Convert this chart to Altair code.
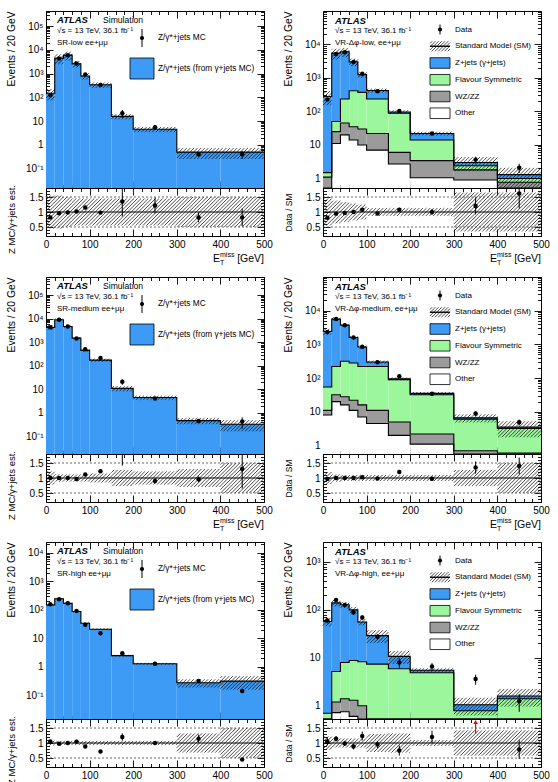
import math

import altair as alt
import pandas as pd

FONT = "Liberation Sans"
W, HM, HR = 218, 177, 48          # panel width, main height, ratio height

EDGES = [0, 20, 40, 60, 80, 100, 150, 200, 300, 400, 500]
X_TICKS = list(range(0, 501, 20))
R_DOMAIN = [0.2, 1.8]
R_TICKS = [round(0.2 + 0.1 * i, 1) for i in range(17)]
R_LABEL_VALUES = [0.5, 1.0, 1.5]
R_LABELS = ["0.5", "1", "1.5"]
LOG_EXPONENTS = [-1, 0, 1, 2, 3, 4, 5]
LOG_LABELS = ["10⁻¹", "1", "10", "10²", "10³", "10⁴", "10⁵"]

BLUE = "#3d9bf5"
GREEN = "#9cf79c"
GREY = "#9b9b9b"
WHITE = "#ffffff"

# ---------------- SR-low: Z MC vs gamma+jets estimate ----------------
SRLOW_EST = [150, 4500, 6000, 2600, 800, 340, 16, 4.6, 0.5, 0.5]
SRLOW_MC = [123, 4320, 5880, 2650, 920, 333, 21.6, 5.6, 0.41, 0.41]
SRLOW_MC_RELERR = [0.04, 0.02, 0.02, 0.03, 0.04, 0.04, 0.37, 0.22, 0.2, 0.36]
SRLOW_SYST = [0.5, 0.45, 0.4, 0.3, 0.3, 0.25, 0.25, 0.25, 0.48, 0.48]
SRLOW_RBAND = [0.55, 0.55, 0.5, 0.45, 0.45, 0.45, 0.45, 0.45, 0.5, 0.5]
SRLOW_YDOM = [0.0155, 4.3e5]

# ---------------- SR-medium ----------------
SRMED_EST = [4300, 9000, 4700, 1500, 450, 175, 11, 4.5, 0.47, 0.33]
SRMED_MC = [4300, 9000, 4700, 1455, 504, 215, 21, 4.05, 0.45, 0.43]
SRMED_MC_RELERR = [0.02, 0.02, 0.02, 0.03, 0.04, 0.05, 0.26, 0.1, 0.1, 0.5]
SRMED_SYST = [0.22, 0.12, 0.12, 0.12, 0.12, 0.15, 0.25, 0.2, 0.3, 0.5]
SRMED_RBAND = [0.22, 0.12, 0.12, 0.12, 0.12, 0.15, 0.27, 0.22, 0.3, 0.5]
SRMED_YDOM = [0.018, 5.9e5]

# ---------------- SR-high ----------------
SRHIGH_EST = [150, 245, 170, 88, 34, 21, 2.5, 1.3, 0.28, 0.32]
SRHIGH_MC = [158, 238, 170, 92, 30, 15.1, 3.0, 1.3, 0.32, 0.145]
SRHIGH_MC_RELERR = [0.05, 0.03, 0.03, 0.06, 0.05, 0.05, 0.1, 0.05, 0.12, 0.05]
SRHIGH_SYST = [0.08, 0.07, 0.07, 0.07, 0.07, 0.07, 0.07, 0.07, 0.32, 0.5]
SRHIGH_RBAND = [0.08, 0.07, 0.07, 0.07, 0.07, 0.07, 0.07, 0.07, 0.32, 0.5]
SRHIGH_YDOM = [0.015, 2.4e4]

# ---------------- VR-dphi-low ----------------
VRLOW_OTHER = [0.5, 11, 20, 14, 10, 7, 2.7, 1.05, 0.9, 0.4]
VRLOW_WZ = [0.6, 14, 25, 21, 20, 15, 3.3, 2.35, 0.9, 0.37]
VRLOW_FS = [0.4, 25, 190, 380, 340, 213, 82, 10.6, 0.6, 0.23]
VRLOW_Z = [278, 5450, 5765, 2585, 880, 185, 8, 8, 0.6, 0.3]
VRLOW_DATA = [225, 5200, 5800, 3000, 1340, 400, 103, 22, 3.6, 2.1]
VRLOW_SYST = [0.45, 0.35, 0.3, 0.25, 0.2, 0.13, 0.13, 0.13, 0.45, 0.6]
VRLOW_RBAND = [0.45, 0.38, 0.33, 0.28, 0.25, 0.13, 0.13, 0.13, 0.65, 0.65]
VRLOW_YDOM = [0.52, 9.9e4]

# ---------------- VR-dphi-medium ----------------
VRMED_OTHER = [8, 20, 16, 11, 7, 4.5, 2, 1.1, 0.5, 0.4]
VRMED_WZ = [3, 12, 12, 11, 9, 6.5, 3, 1.1, 0.2, 0.2]
VRMED_FS = [43, 188, 288, 258, 204, 209, 85, 29.8, 5.3, 2.6]
VRMED_Z = [2346, 5380, 3384, 1320, 610, 80, 5, 3, 0.6, 0.3]
VRMED_DATA = [2330, 5600, 3700, 1600, 850, 295, 114, 34, 8.9, 4.9]
VRMED_SYST = [0.2, 0.12, 0.1, 0.1, 0.1, 0.1, 0.1, 0.1, 0.27, 0.5]
VRMED_RBAND = [0.2, 0.12, 0.1, 0.1, 0.1, 0.1, 0.1, 0.1, 0.27, 0.5]
VRMED_YDOM = [0.56, 9.9e4]

# ---------------- VR-dphi-high ----------------
VRHIGH_OTHER = [0.2, 0.72, 0.75, 0.6, 0.5, 0.3, 0.2, 0.1, 0.05, 0.05]
VRHIGH_WZ = [0.2, 0.48, 0.65, 0.7, 0.5, 0.2, 0.1, 0.1, 0.05, 0.05]
VRHIGH_FS = [0.3, 4.0, 6.6, 7.5, 7.3, 6.9, 5.6, 4.7, 0.69, 1.3]
VRHIGH_Z = [56.3, 134.8, 120, 91.2, 47.7, 21.6, 4.8, 0.6, 0.26, 0.2]
VRHIGH_DATA = [60, 160, 126, 88, 69, 27.5, 8, 6.6, 3.6, 1.25]
VRHIGH_SYST = [0.2, 0.15, 0.15, 0.15, 0.15, 0.3, 0.3, 0.1, 0.4, 0.4]
VRHIGH_RBAND = [0.22, 0.15, 0.15, 0.15, 0.15, 0.3, 0.32, 0.1, 0.42, 0.42]
VRHIGH_YDOM = [0.53, 2600]

CENTRES = [(a + b) / 2 for a, b in zip(EDGES[:-1], EDGES[1:])]
ONE = pd.DataFrame({"k": [0]})


# ---------------- helpers ----------------
def diag_segments(px0, px1, py0, py1, step):
    """'/'-hatch segments clipped to a rectangle (pixel space, y upward)."""
    segs = []
    k0 = math.ceil((px0 - py1) / step)
    k1 = math.floor((px1 - py0) / step)
    for k in range(k0, k1 + 1):
        c = k * step
        lo = max(py0, px0 - c)
        hi = min(py1, px1 - c)
        if hi - lo > 0.25:
            segs.append((lo + c, lo, hi + c, hi))
    return segs


def hatch_df(rects, ydom, height, log, step=3.6):
    if log:
        l0, l1 = math.log10(ydom[0]), math.log10(ydom[1])
        fy = lambda v: (math.log10(v) - l0) / (l1 - l0) * height
        gy = lambda p: 10 ** (l0 + p / height * (l1 - l0))
    else:
        fy = lambda v: (v - ydom[0]) / (ydom[1] - ydom[0]) * height
        gy = lambda p: ydom[0] + p / height * (ydom[1] - ydom[0])
    fx = lambda v: v / 500 * W
    gx = lambda p: p / W * 500
    rows = []
    for xa, xb, ya, yb in rects:
        ya = max(ya, ydom[0])
        yb = min(yb, ydom[1])
        if yb <= ya:
            continue
        for ax, ay, bx, by in diag_segments(fx(xa), fx(xb), fy(ya), fy(yb), step):
            rows.append({"x": gx(ax), "y": gy(ay), "x2": gx(bx), "y2": gy(by)})
    return pd.DataFrame(rows)


def x_axis(orient, labels):
    return alt.Axis(
        orient=orient, values=X_TICKS, labels=labels, title=None,
        labelExpr="datum.value % 100 == 0 ? datum.label : ''",
        tickSize={"condition": {"test": "datum.value % 100 == 0", "value": -7}, "value": -3.5},
        labelPadding=10, labelFontSize=10, labelOverlap=False, labelFlush=False,
        ticks=True, domain=False, grid=False, tickColor="black", tickWidth=0.9,
    )


def log_ticks(ydom):
    vals = []
    for k in range(-3, 8):
        for m in range(1, 10):
            v = float(f"{m}e{k}")
            if ydom[0] <= v <= ydom[1]:
                vals.append(v)
    return vals


def y_log_axis(orient, ydom, labels, title=None):
    expr = "''"
    for e, lab in reversed(list(zip(LOG_EXPONENTS, LOG_LABELS))):
        expr = f"datum.value == {float(f'1e{e}')!r} ? '{lab}' : " + expr
    major = "abs(log(datum.value) / LN10 - round(log(datum.value) / LN10)) < 0.001"
    return alt.Axis(
        orient=orient, values=log_ticks(ydom), labels=labels, labelExpr=expr,
        tickSize={"condition": {"test": major, "value": -7}, "value": -3.5},
        labelPadding=10, labelFontSize=10, labelOverlap=False, labelFlush=False,
        ticks=True, domain=False, grid=False, tickColor="black", tickWidth=0.9,
        title=title, titleX=-35, titleAnchor="end", titleBaseline="middle",
        titleFontSize=10.3, titleFontWeight="normal", titleAngle=-90,
    )


def y_ratio_axis(orient, labels, title=None, title_size=9.5, title_y=HR / 2):
    expr = "''"
    for v, lab in reversed(list(zip(R_LABEL_VALUES, R_LABELS))):
        expr = f"datum.value == {v!r} ? '{lab}' : " + expr
    major = "datum.value == 0.5 || datum.value == 1 || datum.value == 1.5"
    return alt.Axis(
        orient=orient, values=R_TICKS, labels=labels, labelExpr=expr,
        tickSize={"condition": {"test": major, "value": -7}, "value": -3.5},
        labelPadding=10, labelFontSize=10, labelOverlap=False, labelFlush=False,
        ticks=True, domain=False, grid=False, tickColor="black", tickWidth=0.9,
        title=title, titleX=-35, titleY=title_y, titleAlign="center", titleBaseline="middle",
        titleFontSize=title_size, titleFontWeight="normal", titleAngle=-90,
    )


def txt(x, y, s, size=8.2, weight="normal", style="normal", align="left", colour="black"):
    return alt.Chart(pd.DataFrame({"t": [s]})).mark_text(
        align=align, baseline="middle", font=FONT, fontSize=size,
        fontWeight=weight, fontStyle=style, color=colour,
    ).encode(x=alt.value(x), y=alt.value(y), text="t:N")


def marker(x, y, half):
    bar = alt.Chart(ONE).mark_rule(color="black", strokeWidth=1).encode(
        x=alt.value(x), y=alt.value(y - half), y2=alt.value(y + half))
    dot = alt.Chart(ONE).mark_circle(color="black", opacity=1, size=18).encode(
        x=alt.value(x), y=alt.value(y))
    return [bar, dot]


def swatch(x0, x1, y0, y1, colour):
    return alt.Chart(ONE).mark_rect(fill=colour, stroke="black", strokeWidth=0.8).encode(
        x=alt.value(x0), x2=alt.value(x1), y=alt.value(y0), y2=alt.value(y1))


def hatch_swatch(x0, x1, y0, y1):
    rows = []
    for ax, ay, bx, by in diag_segments(x0, x1, 0, y1 - y0, 3.2):
        rows.append({"x": ax, "y": y1 - ay, "x2": bx, "y2": y1 - by})
    lines = alt.Chart(pd.DataFrame(rows)).mark_rule(color="black", strokeWidth=0.7).encode(
        x=alt.X("x:Q", scale=None, axis=None), x2="x2:Q",
        y=alt.Y("y:Q", scale=None, axis=None), y2="y2:Q")
    mid = alt.Chart(ONE).mark_rule(color="black", strokeWidth=1.4).encode(
        x=alt.value(x0), x2=alt.value(x1), y=alt.value((y0 + y1) / 2))
    return [lines, mid]


# ---------------- panels ----------------
def main_panel(components, colours, pts, pts_lo, pts_hi, syst, ydom, overlays):
    xs = alt.Scale(domain=[0, 500], nice=False, zero=False)
    ys = alt.Scale(type="log", domain=ydom, nice=False, clamp=True)
    fills, outlines = [], []
    below = [ydom[0]] * 10
    cum = [0.0] * 10
    for k, (comp, col) in enumerate(zip(components, colours)):
        cum = [c + v for c, v in zip(cum, comp)]
        for j in range(10):
            fills.append({"x0": EDGES[j], "x1": EDGES[j + 1], "lo": below[j], "hi": cum[j], "col": col})
        for j in range(11):
            outlines.append({"lvl": k, "x": EDGES[j], "y": cum[min(j, 9)]})
        below = cum[:]
    total = cum

    fill = alt.Chart(pd.DataFrame(fills)).mark_rect(strokeWidth=0).encode(
        x=alt.X("x0:Q", scale=xs, axis=x_axis("bottom", False)), x2="x1:Q",
        y=alt.Y("hi:Q", scale=ys, axis=y_log_axis("left", ydom, True, "Events / 20 GeV")),
        y2="lo:Q", color=alt.Color("col:N", scale=None))
    outline = alt.Chart(pd.DataFrame(outlines)).mark_line(
        interpolate="step-after", color="black", strokeWidth=1.1).encode(
        x=alt.X("x:Q", scale=xs, axis=None), y=alt.Y("y:Q", scale=ys, axis=None),
        detail="lvl:N")
    band = hatch_df([(EDGES[j], EDGES[j + 1], total[j] * (1 - syst[j]), total[j] * (1 + syst[j]))
                     for j in range(10)], ydom, HM, True)
    hatch = alt.Chart(band).mark_rule(color="black", strokeWidth=0.7).encode(
        x=alt.X("x:Q", scale=xs, axis=None), x2="x2:Q",
        y=alt.Y("y:Q", scale=ys, axis=None), y2="y2:Q")
    pdf = pd.DataFrame({"x": CENTRES, "v": pts, "lo": pts_lo, "hi": pts_hi})
    err = alt.Chart(pdf).mark_rule(color="black", strokeWidth=1).encode(
        x=alt.X("x:Q", scale=xs, axis=None), y=alt.Y("lo:Q", scale=ys, axis=None), y2="hi:Q")
    dots = alt.Chart(pdf).mark_circle(color="black", opacity=1, size=20).encode(
        x=alt.X("x:Q", scale=xs, axis=x_axis("top", False)),
        y=alt.Y("v:Q", scale=ys, axis=y_log_axis("right", ydom, False)))
    return alt.layer(fill, outline, hatch, err, dots, *overlays).resolve_axis(
        x="independent", y="independent").properties(width=W, height=HM)


def ratio_panel(ratio, r_lo, r_hi, band_half, ytitle, title_size, title_y, x_title):
    xs = alt.Scale(domain=[0, 500], nice=False, zero=False)
    ys = alt.Scale(domain=R_DOMAIN, nice=False, zero=False)
    band = hatch_df([(EDGES[j], EDGES[j + 1], 1 - band_half[j], 1 + band_half[j]) for j in range(10)],
                    R_DOMAIN, HR, False)
    hatch = alt.Chart(band).mark_rule(color="black", strokeWidth=0.7).encode(
        x=alt.X("x:Q", scale=xs, axis=x_axis("bottom", True)), x2="x2:Q",
        y=alt.Y("y:Q", scale=ys, axis=y_ratio_axis("left", True, ytitle, title_size, title_y)),
        y2="y2:Q")
    dotted = alt.Chart(pd.DataFrame({"y": [0.5, 1.5]})).mark_rule(
        color="#444444", strokeDash=[2, 2], strokeWidth=0.8).encode(
        y=alt.Y("y:Q", scale=ys, axis=None))
    unity = alt.Chart(pd.DataFrame({"y": [1.0]})).mark_rule(color="black", strokeWidth=1).encode(
        y=alt.Y("y:Q", scale=ys, axis=None))
    pdf = pd.DataFrame({"x": CENTRES, "r": ratio, "lo": r_lo, "hi": r_hi})
    err = alt.Chart(pdf).mark_rule(color="black", strokeWidth=1, clip=True).encode(
        x=alt.X("x:Q", scale=xs, axis=None), y=alt.Y("lo:Q", scale=ys, axis=None), y2="hi:Q")
    dots = alt.Chart(pdf).mark_circle(color="black", opacity=1, size=20, clip=True).encode(
        x=alt.X("x:Q", scale=xs, axis=x_axis("top", False)),
        y=alt.Y("r:Q", scale=ys, axis=y_ratio_axis("right", False)))
    layers = [hatch, dotted, unity, err, dots]

    # points whose whole error bar lies above the frame get a red arrow
    off = pdf[pdf["lo"] > R_DOMAIN[1]]
    if len(off):
        arr = pd.DataFrame({"x": off["x"], "a": 1.3, "b": 1.66, "tip": 1.7})
        layers.append(alt.Chart(arr).mark_rule(color="red", strokeWidth=1.2).encode(
            x=alt.X("x:Q", scale=xs, axis=None), y=alt.Y("a:Q", scale=ys, axis=None), y2="b:Q"))
        layers.append(alt.Chart(arr).mark_point(
            shape="triangle-up", filled=True, color="red", size=22, opacity=1).encode(
            x=alt.X("x:Q", scale=xs, axis=None), y=alt.Y("tip:Q", scale=ys, axis=None)))
    if x_title:
        layers += [
            txt(W - 51, HR + 23, "E", 10.5),
            txt(W - 44, HR + 18.5, "miss", 7),
            txt(W - 44, HR + 27, "T", 7),
            txt(W, HR + 23, "[GeV]", 10.5, align="right"),
        ]
    return alt.layer(*layers).resolve_axis(x="independent", y="independent").properties(
        width=W, height=HR)


def sr_column(est, mc, relerr, syst, rband, ydom, region, x_title):
    lo = [m * (1 - e) for m, e in zip(mc, relerr)]
    hi = [m * (1 + e) for m, e in zip(mc, relerr)]
    overlays = [
        txt(11, 9, "ATLAS", 9.5, weight="bold", style="italic"),
        txt(57, 9, "Simulation", 8.6),
        txt(11, 19.5, "√s = 13 TeV, 36.1 fb⁻¹", 8),
        txt(11, 31.5, region, 8),
        *marker(96, 27, 9),
        txt(112, 27, "Z/γ*+jets MC", 8.3),
        swatch(84, 108, 47, 68, BLUE),
        txt(112, 57.5, "Z/γ*+jets (from γ+jets MC)", 8.3),
    ]
    main = main_panel([est], [BLUE], mc, lo, hi, syst, ydom, overlays)
    ratio = ratio_panel([m / e for m, e in zip(mc, est)],
                        [l / e for l, e in zip(lo, est)],
                        [h / e for h, e in zip(hi, est)],
                        rband, "Z MC/γ+jets est.", 9.5, HR / 2 + 7, x_title)
    return alt.vconcat(main, ratio, spacing=0, bounds="flush")


def vr_column(other, wz, fs, z, data, syst, rband, ydom, region, x_title):
    widths = [b - a for a, b in zip(EDGES[:-1], EDGES[1:])]
    lo, hi = [], []
    for v, w in zip(data, widths):
        n = w / 20
        e = math.sqrt(v * n) / n
        lo.append(v - e)
        hi.append(v + e)
    total = [a + b + c + d for a, b, c, d in zip(other, wz, fs, z)]
    ly = [18.5 + 16.75 * i for i in range(6)]
    overlays = [
        txt(12, 9.5, "ATLAS", 9.5, weight="bold", style="italic"),
        txt(12, 20, "√s = 13 TeV, 36.1 fb⁻¹", 8),
        txt(12, 31.5, region, 8),
        *marker(117, ly[0], 5),
        txt(132, ly[0], "Data", 8),
        *hatch_swatch(107, 127, ly[1] - 5, ly[1] + 5),
        txt(132, ly[1], "Standard Model (SM)", 8),
    ]
    for i, (lab, col) in enumerate([("Z+jets (γ+jets)", BLUE), ("Flavour Symmetric", GREEN),
                                    ("WZ/ZZ", GREY), ("Other", WHITE)]):
        y = ly[i + 2]
        overlays += [swatch(107, 127, y - 5.3, y + 5.3, col), txt(132, y, lab, 8)]
    main = main_panel([other, wz, fs, z], [WHITE, GREY, GREEN, BLUE], data, lo, hi, syst, ydom,
                      overlays)
    ratio = ratio_panel([d / t for d, t in zip(data, total)],
                        [l / t for l, t in zip(lo, total)],
                        [h / t for h, t in zip(hi, total)],
                        rband, "Data / SM", 8.5, HR / 2, x_title)
    return alt.vconcat(main, ratio, spacing=0, bounds="flush")


row1 = alt.hconcat(
    sr_column(SRLOW_EST, SRLOW_MC, SRLOW_MC_RELERR, SRLOW_SYST, SRLOW_RBAND, SRLOW_YDOM,
              "SR-low ee+μμ", True),
    vr_column(VRLOW_OTHER, VRLOW_WZ, VRLOW_FS, VRLOW_Z, VRLOW_DATA, VRLOW_SYST, VRLOW_RBAND,
              VRLOW_YDOM, "VR-Δφ-low, ee+μμ", True),
    spacing=9)
row2 = alt.hconcat(
    sr_column(SRMED_EST, SRMED_MC, SRMED_MC_RELERR, SRMED_SYST, SRMED_RBAND, SRMED_YDOM,
              "SR-medium ee+μμ", True),
    vr_column(VRMED_OTHER, VRMED_WZ, VRMED_FS, VRMED_Z, VRMED_DATA, VRMED_SYST, VRMED_RBAND,
              VRMED_YDOM, "VR-Δφ-medium, ee+μμ", True),
    spacing=9)
row3 = alt.hconcat(
    sr_column(SRHIGH_EST, SRHIGH_MC, SRHIGH_MC_RELERR, SRHIGH_SYST, SRHIGH_RBAND, SRHIGH_YDOM,
              "SR-high ee+μμ", False),
    vr_column(VRHIGH_OTHER, VRHIGH_WZ, VRHIGH_FS, VRHIGH_Z, VRHIGH_DATA, VRHIGH_SYST, VRHIGH_RBAND,
              VRHIGH_YDOM, "VR-Δφ-high, ee+μμ", False),
    spacing=9)

chart = alt.vconcat(row1, row2, row3, spacing=5).properties(
    padding={"left": 5, "top": 6, "right": 2, "bottom": 0}
).configure(font=FONT, background="white").configure_view(
    stroke="black", strokeWidth=1
).configure_axis(
    labelFont=FONT, titleFont=FONT, labelColor="black", titleColor="black"
)

chart.save("out.html", embed_options={"renderer": "svg", "actions": False})
